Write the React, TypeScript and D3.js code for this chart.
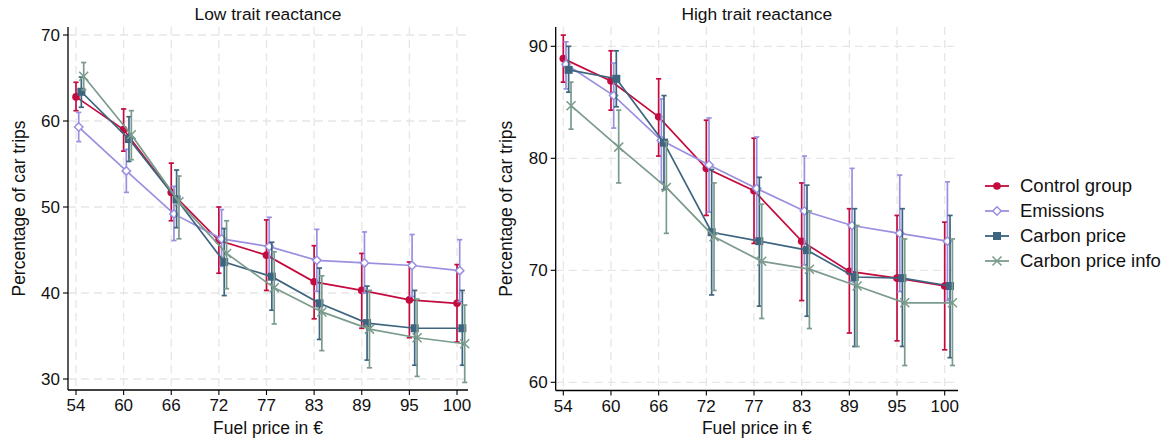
import React from "react";
import * as d3 from "d3";

const categories = ["54", "60", "66", "72", "77", "83", "89", "95", "100"];
const seriesNames = ["Control group", "Emissions", "Carbon price", "Carbon price info"];

// Low trait reactance
const lowControlMean = [62.8, 59.0, 51.7, 46.1, 44.4, 41.3, 40.3, 39.2, 38.8];
const lowControlLo = [61.2, 56.5, 48.4, 42.3, 40.3, 37.0, 35.9, 34.8, 34.3];
const lowControlHi = [64.5, 61.4, 55.1, 50.0, 48.5, 45.5, 44.6, 43.6, 43.3];
const lowEmissionsMean = [59.3, 54.2, 49.2, 46.3, 45.4, 43.8, 43.5, 43.2, 42.6];
const lowEmissionsLo = [57.6, 51.7, 46.1, 43.1, 42.0, 40.2, 40.0, 39.6, 39.0];
const lowEmissionsHi = [61.0, 56.7, 52.4, 49.7, 48.8, 47.4, 47.1, 46.8, 46.2];
const lowCarbonMean = [63.4, 57.9, 50.9, 43.6, 41.9, 38.8, 36.5, 35.9, 35.9];
const lowCarbonLo = [61.6, 55.3, 47.6, 39.7, 38.0, 34.6, 32.2, 31.6, 31.6];
const lowCarbonHi = [65.1, 60.5, 54.3, 47.5, 45.9, 42.9, 40.8, 40.3, 40.3];
const lowInfoMean = [65.2, 58.4, 50.6, 44.6, 40.6, 37.8, 35.8, 34.8, 34.1];
const lowInfoLo = [63.6, 55.5, 46.3, 40.5, 36.4, 33.3, 31.3, 30.3, 29.6];
const lowInfoHi = [66.8, 61.2, 53.6, 48.4, 44.8, 42.0, 40.3, 39.3, 38.6];

// High trait reactance
const highControlMean = [88.9, 86.9, 83.7, 79.1, 77.1, 72.6, 69.9, 69.3, 68.6];
const highControlLo = [86.8, 84.3, 80.2, 74.9, 72.4, 67.3, 64.4, 63.7, 62.9];
const highControlHi = [91.0, 89.6, 87.1, 83.4, 81.8, 77.8, 75.5, 74.9, 74.3];
const highEmissionsMean = [88.4, 85.6, 81.6, 79.4, 77.3, 75.3, 74.0, 73.3, 72.6];
const highEmissionsLo = [86.2, 82.7, 77.9, 75.2, 72.7, 70.5, 69.0, 68.1, 67.3];
const highEmissionsHi = [90.4, 88.5, 85.3, 83.6, 81.9, 80.2, 79.1, 78.5, 77.9];
const highCarbonMean = [87.9, 87.1, 81.4, 73.4, 72.6, 71.8, 69.4, 69.3, 68.6];
const highCarbonLo = [85.9, 84.6, 77.2, 67.8, 66.8, 65.9, 63.2, 63.2, 62.2];
const highCarbonHi = [90.0, 89.6, 85.6, 79.0, 78.3, 77.6, 75.5, 75.5, 74.9];
const highInfoMean = [84.7, 81.0, 77.4, 73.0, 70.8, 70.1, 68.6, 67.1, 67.1];
const highInfoLo = [82.6, 77.8, 73.3, 68.2, 65.7, 64.8, 63.2, 61.5, 61.5];
const highInfoHi = [86.8, 84.3, 81.5, 77.8, 75.9, 75.3, 74.0, 72.8, 72.8];

const lowTicks = [30, 40, 50, 60, 70];
const highTicks = [60, 70, 80, 90];

const colors = ["#c40b3e", "#9a90e0", "#3e6580", "#7b9b8c"];
const markers = ["circle", "diamond", "square", "x"];
const offsets = [0, 0.057, 0.112, 0.162];

const FONT = "'Liberation Sans', Arial, sans-serif";

type Series = { mean: number[]; lo: number[]; hi: number[] };

const lowSeries: Series[] = [
  { mean: lowControlMean, lo: lowControlLo, hi: lowControlHi },
  { mean: lowEmissionsMean, lo: lowEmissionsLo, hi: lowEmissionsHi },
  { mean: lowCarbonMean, lo: lowCarbonLo, hi: lowCarbonHi },
  { mean: lowInfoMean, lo: lowInfoLo, hi: lowInfoHi },
];
const highSeries: Series[] = [
  { mean: highControlMean, lo: highControlLo, hi: highControlHi },
  { mean: highEmissionsMean, lo: highEmissionsLo, hi: highEmissionsHi },
  { mean: highCarbonMean, lo: highCarbonLo, hi: highCarbonHi },
  { mean: highInfoMean, lo: highInfoLo, hi: highInfoHi },
];

function Marker({ type, x, y, color }: { type: string; x: number; y: number; color: string }) {
  if (type === "circle") return <circle cx={x} cy={y} r={3.8} fill={color} />;
  if (type === "diamond")
    return (
      <path
        d={`M${x},${y - 4.2}L${x + 4.2},${y}L${x},${y + 4.2}L${x - 4.2},${y}Z`}
        fill="#fff"
        stroke={color}
        strokeWidth={1.5}
      />
    );
  if (type === "square") return <rect x={x - 4} y={y - 4} width={8} height={8} fill={color} />;
  return (
    <path
      d={`M${x - 4.5},${y - 4.5}L${x + 4.5},${y + 4.5}M${x - 4.5},${y + 4.5}L${x + 4.5},${y - 4.5}`}
      stroke={color}
      strokeWidth={1.5}
      fill="none"
    />
  );
}

type PanelProps = {
  title: string;
  series: Series[];
  ticks: number[];
  left: number;
  right: number;
  top: number;
  bottom: number;
  yDomain: [number, number];
  yRange: [number, number];
  xRange: [number, number];
  yTitleX: number;
};

function Panel(p: PanelProps) {
  const x = d3.scalePoint<string>().domain(categories).range(p.xRange);
  const step = x.step();
  const y = d3.scaleLinear().domain(p.yDomain).range(p.yRange);
  const line = d3
    .line<[number, number]>()
    .x((d) => d[0])
    .y((d) => d[1]);
  const cx = (p.left + p.right) / 2;
  const cy = (p.top + p.bottom) / 2;
  return (
    <g>
      {p.ticks.map((t) => (
        <line
          key={"h" + t}
          x1={p.left}
          x2={p.right}
          y1={y(t)}
          y2={y(t)}
          stroke="#e6e6e6"
          strokeWidth={1.3}
          strokeDasharray="8,5"
        />
      ))}
      {categories.map((c) => (
        <line
          key={"v" + c}
          x1={x(c)}
          x2={x(c)}
          y1={p.top}
          y2={p.bottom}
          stroke="#e6e6e6"
          strokeWidth={1.3}
          strokeDasharray="8,5"
        />
      ))}
      {p.series.map((s, si) => {
        const xs = categories.map((c) => (x(c) as number) + offsets[si] * step);
        const pts: [number, number][] = s.mean.map((m, i) => [xs[i], y(m)]);
        const col = colors[si];
        return (
          <g key={si}>
            {s.mean.map((_, i) => (
              <g key={i} stroke={col} strokeWidth={1.7}>
                <line x1={xs[i]} x2={xs[i]} y1={y(s.lo[i])} y2={y(s.hi[i])} />
                <line x1={xs[i] - 2.6} x2={xs[i] + 2.6} y1={y(s.lo[i])} y2={y(s.lo[i])} />
                <line x1={xs[i] - 2.6} x2={xs[i] + 2.6} y1={y(s.hi[i])} y2={y(s.hi[i])} />
              </g>
            ))}
            <path d={line(pts) || ""} fill="none" stroke={col} strokeWidth={1.7} />
            {pts.map((pt, i) => (
              <Marker key={i} type={markers[si]} x={pt[0]} y={pt[1]} color={col} />
            ))}
          </g>
        );
      })}
      <line x1={p.left} x2={p.left} y1={p.top} y2={p.bottom} stroke="#000" strokeWidth={1.3} />
      <line x1={p.left} x2={p.right} y1={p.bottom} y2={p.bottom} stroke="#000" strokeWidth={1.3} />
      {p.ticks.map((t) => (
        <g key={"yt" + t}>
          <line x1={p.left - 5} x2={p.left} y1={y(t)} y2={y(t)} stroke="#000" strokeWidth={1.1} />
          <text
            x={p.left - 8}
            y={y(t)}
            dy="0.35em"
            textAnchor="end"
            fontSize={17}
            fontFamily={FONT}
            fill="#111"
          >
            {t}
          </text>
        </g>
      ))}
      {categories.map((c) => (
        <g key={"xt" + c}>
          <line x1={x(c)} x2={x(c)} y1={p.bottom} y2={p.bottom + 5} stroke="#000" strokeWidth={1.1} />
          <text
            x={x(c)}
            y={p.bottom + 21}
            textAnchor="middle"
            fontSize={17}
            fontFamily={FONT}
            fill="#111"
          >
            {c}
          </text>
        </g>
      ))}
      <text x={cx} y={20} textAnchor="middle" fontSize={17.4} fontFamily={FONT} fill="#111">
        {p.title}
      </text>
      <text x={cx} y={434} textAnchor="middle" fontSize={17.5} fontFamily={FONT} fill="#111">
        Fuel price in €
      </text>
      <text
        transform={`translate(${p.yTitleX},${cy}) rotate(-90)`}
        textAnchor="middle"
        fontSize={17.5}
        fontFamily={FONT}
        fill="#111"
      >
        Percentage of car trips
      </text>
    </g>
  );
}

export default function App() {
  const legendY = d3.scalePoint<string>().domain(seriesNames).range([186, 261]);
  return (
    <svg
      width={1171}
      height={438}
      style={{ position: "absolute", left: 0, top: 0, background: "#fff" }}
    >
      <rect width={1171} height={438} fill="#fff" />
      <Panel
        title="Low trait reactance"
        series={lowSeries}
        ticks={lowTicks}
        left={68}
        right={468}
        top={27}
        bottom={390}
        yDomain={[30, 70]}
        yRange={[379, 35]}
        xRange={[76, 457]}
        yTitleX={25}
      />
      <Panel
        title="High trait reactance"
        series={highSeries}
        ticks={highTicks}
        left={555.7}
        right={958}
        top={27}
        bottom={390.5}
        yDomain={[60, 90]}
        yRange={[382.3, 46.3]}
        xRange={[563.3, 944.7]}
        yTitleX={512}
      />
      {seriesNames.map((n, i) => {
        const ly = legendY(n) as number;
        return (
          <g key={n}>
            <line x1={985} x2={1009} y1={ly} y2={ly} stroke={colors[i]} strokeWidth={1.8} />
            <Marker type={markers[i]} x={997} y={ly} color={colors[i]} />
            <text x={1020} y={ly} dy="0.35em" fontSize={18.5} fontFamily={FONT} fill="#111">
              {n}
            </text>
          </g>
        );
      })}
    </svg>
  );
}
